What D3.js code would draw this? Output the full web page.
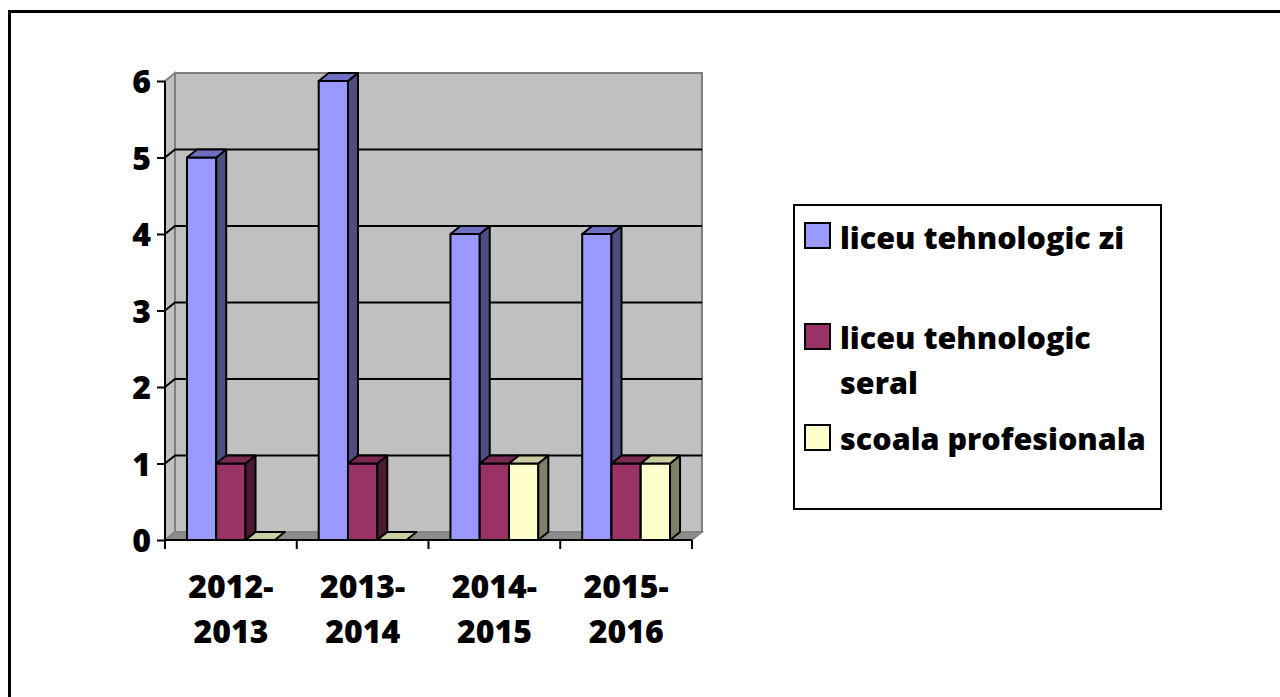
<!DOCTYPE html>
<html><head><meta charset="utf-8">
<script src="https://cdn.jsdelivr.net/npm/d3@7"></script>
<style>html,body{margin:0;padding:0;background:#fff;}svg{display:block;}</style>
</head><body>
<svg id="chart" width="1280" height="697"></svg>
<script>
const categories = ["2012-2013", "2013-2014", "2014-2015", "2015-2016"];
const seriesNames = ["liceu tehnologic zi", "liceu tehnologic seral", "scoala profesionala"];
const liceuZi = [5, 6, 4, 4];
const liceuSeral = [1, 1, 1, 1];
const scoalaProf = [0, 0, 1, 1];
const yTicks = [0, 1, 2, 3, 4, 5, 6];

const seriesValues = [liceuZi, liceuSeral, scoalaProf];
const colors = [
  {front: "#9999ff", top: "#7070c0", side: "#4d4d80"},
  {front: "#993366", top: "#7a2952", side: "#4d1a33"},
  {front: "#ffffcc", top: "#cccca3", side: "#808066"}
];

const svg = d3.select("#chart");
const font = "'Open Sans', 'DejaVu Sans', sans-serif";
const FW = 800;

// outer frame
svg.append("rect").attr("x", 9.5).attr("y", 11.5).attr("width", 1400).attr("height", 900)
  .attr("fill", "none").attr("stroke", "#000").attr("stroke-width", 3);

const X0 = 165, X1 = 692, DX = 10, DY = -8;
const x = d3.scaleBand().domain(categories).range([X0, X1]);
const y = d3.scaleLinear().domain([0, 6]).range([540, 81]);
const bw = x.bandwidth();
const gap = bw * 0.75 / 4.5;
const xs = d3.scaleBand().domain(seriesNames).range([gap, bw - gap]);
const w = xs.bandwidth();

const g = svg.append("g");
const pts = p => p.map(d => d.join(",")).join(" ");

// back wall
g.append("polygon").attr("points", pts([[X0+DX, y(6)+DY],[X1+DX, y(6)+DY],[X1+DX, y(0)+DY],[X0+DX, y(0)+DY]]))
  .attr("fill", "#c0c0c0").attr("stroke", "#808080").attr("stroke-width", 2);
// left wall
g.append("polygon").attr("points", pts([[X0, y(6)],[X0+DX, y(6)+DY],[X0+DX, y(0)+DY],[X0, y(0)]]))
  .attr("fill", "#c0c0c0").attr("stroke", "#808080").attr("stroke-width", 2);
// floor
g.append("polygon").attr("points", pts([[X0, y(0)],[X1, y(0)],[X1+DX, y(0)+DY],[X0+DX, y(0)+DY]]))
  .attr("fill", "#8c8c8c").attr("stroke", "#808080").attr("stroke-width", 1.5);

// gridlines
yTicks.filter(t => t > 0 && t < 6).forEach(t => {
  g.append("polyline").attr("points", pts([[X0, y(t)],[X0+DX, y(t)+DY],[X1+DX, y(t)+DY]]))
    .attr("fill", "none").attr("stroke", "#000").attr("stroke-width", 2);
});

// bars
categories.forEach((c, ci) => {
  seriesNames.forEach((s, si) => {
    const v = seriesValues[si][ci];
    const bx = x(c) + xs(s);
    const yt = y(v), yb = y(0);
    const col = colors[si];
    const bg = g.append("g").attr("stroke", "#000").attr("stroke-width", 2).attr("stroke-linejoin", "round");
    if (v > 0) {
      bg.append("polygon").attr("points", pts([[bx, yt],[bx+w, yt],[bx+w, yb],[bx, yb]])).attr("fill", col.front);
      bg.append("polygon").attr("points", pts([[bx+w, yt],[bx+w+DX, yt+DY],[bx+w+DX, yb+DY],[bx+w, yb]])).attr("fill", col.side);
    }
    bg.append("polygon").attr("points", pts([[bx, yt],[bx+w, yt],[bx+w+DX, yt+DY],[bx+DX, yt+DY]])).attr("fill", col.top);
  });
});

// axes
const yAxis = d3.axisLeft(y).tickValues(yTicks).tickSize(8).tickFormat(d3.format("d"));
const ya = svg.append("g").attr("transform", `translate(${X0},0)`).call(yAxis);
ya.select(".domain").attr("stroke", "#000").attr("stroke-width", 2).attr("d", `M0,${y(6)}V${y(0)}`);
ya.selectAll(".tick line").attr("stroke", "#000").attr("stroke-width", 2);
ya.selectAll(".tick text").attr("font-family", font).attr("font-weight", FW).attr("font-size", 32)
  .attr("fill", "#000").attr("x", -14).attr("dy", "0.36em");

const xa = svg.append("g").attr("transform", `translate(0,${y(0)})`)
  .call(d3.axisBottom(x).tickSize(0).tickFormat(""));
xa.select(".domain").attr("stroke", "#000").attr("stroke-width", 2).attr("d", `M${X0},0H${X1}`);
const bounds = [X0].concat(categories.map(c => x(c) + bw));
xa.selectAll(".bt").data(bounds).join("line").attr("class", "bt")
  .attr("x1", d => d).attr("x2", d => d).attr("y1", 0).attr("y2", 9)
  .attr("stroke", "#000").attr("stroke-width", 2);
categories.forEach(c => {
  const parts = c.split("-");
  const t = svg.append("text").attr("font-family", font).attr("font-weight", FW).attr("font-size", 32)
    .attr("text-anchor", "middle").attr("fill", "#000");
  t.append("tspan").attr("x", x(c) + bw / 2).attr("y", 598).text(parts[0] + "-");
  t.append("tspan").attr("x", x(c) + bw / 2).attr("y", 643).text(parts[1]);
});

// legend
const lg = svg.append("g");
lg.append("rect").attr("x", 794).attr("y", 205).attr("width", 367).attr("height", 304)
  .attr("fill", "#fff").attr("stroke", "#000").attr("stroke-width", 2);
const legendRows = [
  {lines: ["liceu tehnologic zi"], sy: 223, base: 249},
  {lines: ["liceu tehnologic", "seral"], sy: 324, base: 349},
  {lines: ["scoala profesionala"], sy: 425, base: 450}
];
legendRows.forEach((r, i) => {
  lg.append("rect").attr("x", 805).attr("y", r.sy).attr("width", 25).attr("height", 25)
    .attr("fill", colors[i].front).attr("stroke", "#000").attr("stroke-width", 2);
  const t = lg.append("text").attr("font-family", font).attr("font-weight", FW).attr("font-size", 30.5).attr("fill", "#000");
  r.lines.forEach((l, li) => t.append("tspan").attr("x", 840).attr("y", r.base + li * 45).text(l));
});
</script>
</body></html>
